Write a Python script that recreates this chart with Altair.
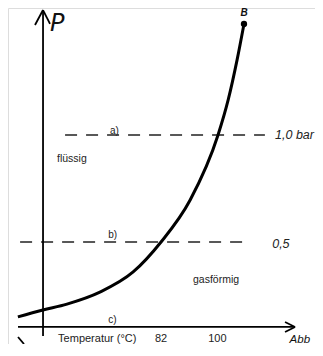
import altair as alt
import pandas as pd

# Vapour-pressure curve (temperature in °C, pressure in bar)
curve_T = [36.8, 44.7, 52.3, 62.7, 73.2, 82.0, 91.2, 100.0, 103.2, 106.0, 108.2]
curve_p = [0.150, 0.182, 0.210, 0.266, 0.360, 0.500, 0.696, 1.000, 1.164, 1.350, 1.519]

# reference pressure lines
level_p = [1.0, 0.5]
level_T_start = [51.7, 37.5]
level_T_end = [114.8, 110.1]
level_tag = ["a)", "b)"]
level_text = ["1,0 bar", "0,5"]

# axis positions (schematic)
axis_T = 44.74      # temperature where the p-axis stands
axis_p = 0.103      # pressure where the T-axis lies
tick_labels = ["82", "100"]
tick_T = [82.0, 99.8]

XD = [33.68, 130.62]
YD = [0.0234, 1.5935]
xs = alt.Scale(domain=XD, nice=False, zero=False)
ys = alt.Scale(domain=YD, nice=False, zero=False)


def X(f="x"):
    return alt.X(f"{f}:Q", scale=xs, axis=None)


def Y(f="y"):
    return alt.Y(f"{f}:Q", scale=ys, axis=None)


curve = alt.Chart(pd.DataFrame({"x": curve_T, "y": curve_p})).mark_line(
    color="black", strokeWidth=3, interpolate="monotone"
).encode(x=X(), y=Y())

endpoint = alt.Chart(pd.DataFrame({"x": [curve_T[-1]], "y": [curve_p[-1]]})).mark_point(
    filled=True, color="black", size=40, opacity=1
).encode(x=X(), y=Y())

levels_df = pd.DataFrame({"x": level_T_start, "x2": level_T_end, "y": level_p})
levels = alt.Chart(levels_df).mark_rule(
    color="#222", strokeWidth=1.4, strokeDash=[12, 9]
).encode(x=X(), x2="x2:Q", y=Y())

# axes drawn as rules (lines with arrow heads) + a stray scan stroke
axes_df = pd.DataFrame({
    "x":  [axis_T, 36.84, axis_T, axis_T, 124.32, 124.32, 36.84],
    "x2": [axis_T, 124.32, 42.21, 46.95, 121.16, 121.16, 38.73],
    "y":  [0.0607, axis_p, 1.584, 1.584, axis_p, axis_p, 0.056],
    "y2": [1.584, axis_p, 1.514, 1.519, 0.126, 0.0794, 0.0234],
})
axes = alt.Chart(axes_df).mark_rule(color="black", strokeWidth=1.8).encode(
    x=X(), x2="x2:Q", y=Y(), y2="y2:Q"
)

tag_df = pd.DataFrame({"x": [65.9, 65.3, 65.3], "y": [1.019, 0.533, 0.136],
                       "t": level_tag + ["c)"]})
tags = alt.Chart(tag_df).mark_text(
    font="Liberation Sans", fontSize=10, color="#222", align="left", baseline="middle"
).encode(x=X(), y=Y(), text="t:N")

hand_df = pd.DataFrame({"x": [118.0, 117.1], "y": [1.0, 0.49], "t": level_text})
hand = alt.Chart(hand_df).mark_text(
    font="Liberation Sans", fontSize=12.5, fontStyle="italic", color="#222",
    align="left", baseline="middle"
).encode(x=X(), y=Y(), text="t:N")

region_df = pd.DataFrame({"x": [49.15, 92.1], "y": [0.888, 0.322],
                          "t": ["flüssig", "gasförmig"]})
regions = alt.Chart(region_df).mark_text(
    font="Liberation Sans", fontSize=10.5, color="#222", align="left", baseline="middle"
).encode(x=X(), y=Y(), text="t:N")

tick_df = pd.DataFrame({"x": tick_T, "y": [0.045, 0.045], "t": tick_labels})
ticks = alt.Chart(tick_df).mark_text(
    font="Liberation Sans", fontSize=11, color="#222", align="center", baseline="middle"
).encode(x=X(), y=Y(), text="t:N")

title_df = pd.DataFrame({"x": [49.5], "y": [0.045], "t": ["Temperatur (°C)"]})
xtitle = alt.Chart(title_df).mark_text(
    font="Liberation Sans", fontSize=11, color="#222", align="left", baseline="middle"
).encode(x=X(), y=Y(), text="t:N")

p_lbl = alt.Chart(pd.DataFrame({"x": [46.95], "y": [1.520], "t": ["P"]})).mark_text(
    font="DejaVu Sans", fontSize=24, fontStyle="italic", fontWeight=200, color="#111",
    align="left", baseline="middle"
).encode(x=X(), y=Y(), text="t:N")
b_lbl = alt.Chart(pd.DataFrame({"x": [108.2], "y": [1.570], "t": ["B"]})).mark_text(
    font="Liberation Sans", fontSize=10, fontStyle="italic", fontWeight="bold", color="#111",
    align="center", baseline="middle"
).encode(x=X(), y=Y(), text="t:N")
abb_lbl = alt.Chart(pd.DataFrame({"x": [122.6], "y": [0.040], "t": ["Abb"]})).mark_text(
    font="Liberation Sans", fontSize=11.5, fontStyle="italic", color="#111",
    align="left", baseline="middle"
).encode(x=X(), y=Y(), text="t:N")

chart = alt.layer(
    levels, axes, curve, endpoint, tags, hand, regions, ticks, xtitle, p_lbl, b_lbl, abb_lbl
).properties(
    width=307, height=336, padding=0, autosize=alt.AutoSizeParams(type="none")
).configure_view(stroke=None).configure(background="white")

chart.save("out.html", embed_options={"renderer": "svg", "actions": False})
